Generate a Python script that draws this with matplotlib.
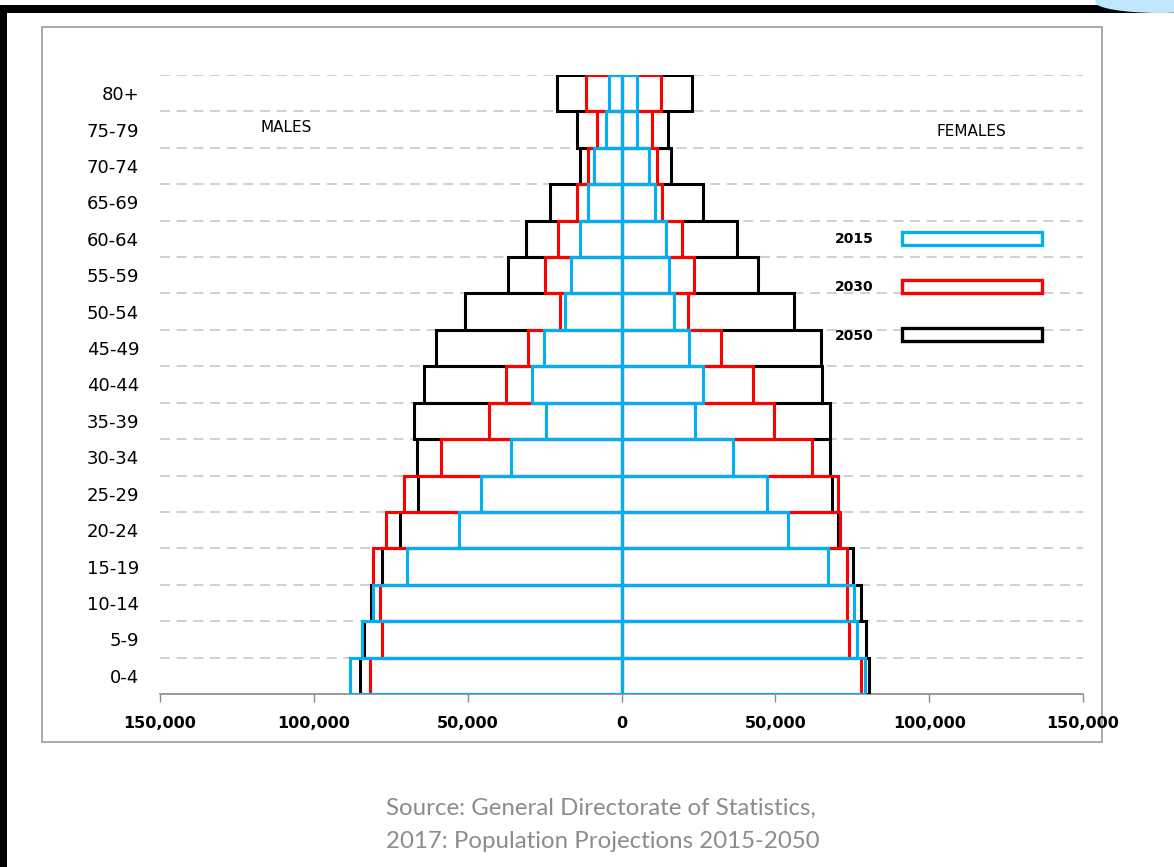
import numpy as np
import matplotlib
matplotlib.use('Agg')
import matplotlib.pyplot as plt
from matplotlib.patches import Rectangle, Ellipse
from matplotlib.ticker import FuncFormatter

# age groups, bottom to top
ages = ['0-4', '5-9', '10-14', '15-19', '20-24', '25-29', '30-34', '35-39',
        '40-44', '45-49', '50-54', '55-59', '60-64', '65-69', '70-74', '75-79', '80+']

# population
males_2015 = [88400, 84400, 80800, 69800, 52700, 45800, 36000, 24700, 29200,
              25300, 18500, 16300, 13600, 11000, 8800, 4900, 4200]
males_2030 = [81600, 77800, 78600, 80800, 76700, 70800, 58800, 43200, 37700,
              30500, 20100, 25000, 20800, 14600, 11000, 8100, 11400]
males_2050 = [85100, 83700, 81300, 77800, 71900, 66300, 66600, 67600, 64300,
              60400, 51000, 37000, 30900, 23400, 13600, 14600, 21100]

females_2015 = [79300, 76500, 75700, 67000, 54100, 47200, 36400, 24000, 26600,
                22100, 17200, 15300, 14600, 11000, 8800, 5200, 5200]
females_2030 = [77900, 73900, 73200, 73200, 71000, 70500, 62000, 49700, 42600,
                32500, 21500, 23700, 19800, 13300, 11400, 9800, 13000]
females_2050 = [80600, 79500, 77900, 75200, 70300, 68500, 67800, 67800, 65100,
                64700, 56200, 44500, 37700, 26600, 16200, 15000, 23000]

years = ['2015', '2030', '2050']
colors = {'2015': '#00b0f0', '2030': '#ff0000', '2050': '#000000'}
males = {'2015': males_2015, '2030': males_2030, '2050': males_2050}
females = {'2015': females_2015, '2030': females_2030, '2050': females_2050}

xticks = [-150000, -100000, -50000, 0, 50000, 100000, 150000]

plt.rcParams['font.family'] = ['DejaVu Sans']

fig = plt.figure(figsize=(11.74, 8.67), dpi=100)
W, H = 1174, 867

# slide decoration: black frame on top and left, blue swoosh top right
fig.patches.append(Rectangle((0, 1 - 13 / H), 1, 8 / H, transform=fig.transFigure,
                             facecolor='black', edgecolor='none', zorder=-2))
fig.patches.append(Rectangle((0, 0), 7 / W, 1 - 5 / H, transform=fig.transFigure,
                             facecolor='black', edgecolor='none', zorder=-2))
fig.patches.append(Ellipse((1160 / W, 1 - 2 / H), 130 / W, 22 / H, transform=fig.transFigure,
                           facecolor='#bfe6fa', edgecolor='none', zorder=-1))

# chart panel border
fig.patches.append(Rectangle((42 / W, 1 - 742 / H), 1060 / W, 715 / H, transform=fig.transFigure,
                             facecolor='white', edgecolor='#9a9a9a', linewidth=1.2, zorder=-1))

ax = fig.add_axes([160 / W, 1 - 694 / H, 923 / W, 619 / H])
ax.set_zorder(2)
ax.set_facecolor('none')
y = np.arange(len(ages))

# dashed row separators
ax.hlines(np.append(y[1:] - 0.5, len(ages) - 0.5), -150000, 150000, colors='#c8c8c8',
          linestyles=(0, (6, 4)), linewidth=1.2, zorder=1)

# white fill behind the outlines
for yr in ['2050', '2030', '2015']:
    ax.barh(y, -np.array(males[yr]), height=1.0, left=0, color='white', edgecolor='none', zorder=2)
    ax.barh(y, females[yr], height=1.0, left=0, color='white', edgecolor='none', zorder=2)

# outlines, widest year underneath
z = 3
for yr in ['2050', '2030', '2015']:
    ax.barh(y, -np.array(males[yr]), height=1.0, fill=False, edgecolor=colors[yr],
            linewidth=2.2, zorder=z)
    ax.barh(y, females[yr], height=1.0, fill=False, edgecolor=colors[yr],
            linewidth=2.2, zorder=z)
    z += 1

ax.set_xlim(-150000, 150000)
ax.set_ylim(-0.5, len(ages) - 0.5)
ax.set_xticks(xticks)
ax.xaxis.set_major_formatter(FuncFormatter(lambda v, p: f'{abs(int(v)):,}'))
ax.set_yticks(y)
ax.set_yticklabels(ages, fontsize=13)
ax.tick_params(axis='y', length=0, pad=15)
ax.tick_params(axis='x', length=6, color='#8a8a8a', width=1, pad=10, labelsize=11.5)
for lbl in ax.get_xticklabels():
    lbl.set_fontweight('bold')
for s in ['top', 'left', 'right']:
    ax.spines[s].set_visible(False)
ax.spines['bottom'].set_color('#8a8a8a')
ax.spines['bottom'].set_linewidth(1.2)

fig.text(286 / W, 1 - 128 / H, 'MALES', fontsize=11, ha='center', va='center')
fig.text(971 / W, 1 - 132 / H, 'FEMALES', fontsize=11, ha='center', va='center')

# legend: label on the left, outlined box on the right
handles = [Rectangle((0, 0), 1, 1, facecolor='white', edgecolor=colors[yr], linewidth=2.4)
           for yr in years]
leg = fig.legend(handles, years, loc='upper left', bbox_to_anchor=(835 / W, 1 - 232 / H),
                 frameon=False, markerfirst=False, handlelength=10.1, handleheight=1.05,
                 handletextpad=2.0, labelspacing=2.45, borderpad=0, borderaxespad=0,
                 prop={'size': 10, 'weight': 'bold'})
leg.set_zorder(5)

fig.text(386 / W, 1 - 808 / H, 'Source: General Directorate of Statistics,', fontsize=17.3,
         color='#8c8c8c', ha='left', va='center', family=['Lato', 'DejaVu Sans'])
fig.text(386 / W, 1 - 842 / H, '2017: Population Projections 2015-2050', fontsize=17.3,
         color='#8c8c8c', ha='left', va='center', family=['Lato', 'DejaVu Sans'])

fig.savefig('out.png', dpi=100)
